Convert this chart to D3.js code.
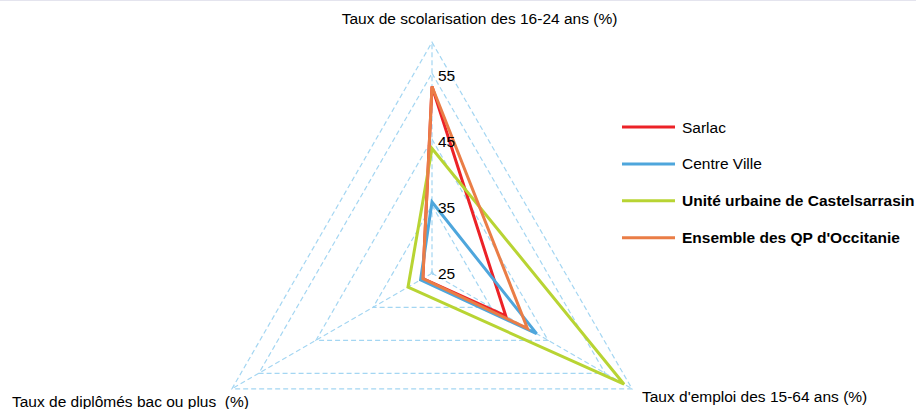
<!DOCTYPE html>
<html>
<head>
<meta charset="utf-8">
<script src="https://cdn.jsdelivr.net/npm/d3@7"></script>
<style>
  body { margin: 0; background: #fff; }
  svg { display: block; font-family: "Liberation Sans", Arial, sans-serif; }
</style>
</head>
<body>
<svg id="chart" width="916" height="409"></svg>
<script>
// axes, clockwise from the top
const axes = [
  'Taux de scolarisation des 16-24 ans (%)',
  "Taux d'emploi des 15-64 ans (%)",
  'Taux de diplômés bac ou plus  (%)'
];
const seriesNames = [
  'Sarlac',
  'Centre Ville',
  'Unité urbaine de Castelsarrasin',
  "Ensemble des QP d'Occitanie"
];
const sarlac = [53.0, 37.6, 26.3];
const centreVille = [35.5, 43.0, 26.7];
const castelsarrasin = [43.6, 58.3, 28.9];
const occitanie = [53.0, 41.4, 26.3];
const tickValues = [25, 35, 45, 55];
const axisMin = 24.7;
const axisMax = 59.7;

const colors = ['#ec2227', '#4ea6dc', '#b8d433', '#ea7d46'];
const boldLegend = [false, false, true, true];

const svg = d3.select('#chart');
const cx = 432, cy = 273.3, R = 231;

svg.append('line')
  .attr('x1', 0).attr('x2', 916).attr('y1', 0.5).attr('y2', 0.5)
  .attr('stroke', '#e4e4ee').attr('stroke-width', 1);

const r = d3.scaleLinear().domain([axisMin, axisMax]).range([0, R]);
const angle = i => i * 2 * Math.PI / axes.length;

const g = svg.append('g').attr('transform', `translate(${cx},${cy})`);

const radial = d3.lineRadial()
  .angle((d, i) => angle(i))
  .radius(d => r(d))
  .curve(d3.curveLinearClosed);

// grid rings
const gridStyle = sel => sel
  .attr('fill', 'none')
  .attr('stroke', '#a4d6f2')
  .attr('stroke-width', 1.2)
  .attr('stroke-dasharray', '5,3');

g.selectAll('path.ring')
  .data(tickValues.concat([axisMax]))
  .join('path')
  .attr('class', 'ring')
  .attr('d', v => radial(axes.map(() => v)))
  .call(gridStyle);

// spokes
g.selectAll('line.spoke')
  .data(axes)
  .join('line')
  .attr('class', 'spoke')
  .attr('x1', 0).attr('y1', 0)
  .attr('x2', (d, i) => Math.sin(angle(i)) * R)
  .attr('y2', (d, i) => -Math.cos(angle(i)) * R)
  .call(gridStyle);

// series
const allSeries = [sarlac, centreVille, castelsarrasin, occitanie];
g.selectAll('path.series')
  .data(allSeries)
  .join('path')
  .attr('class', 'series')
  .attr('d', d => radial(d))
  .attr('fill', 'none')
  .attr('stroke', (d, i) => colors[i])
  .attr('stroke-width', 3);

// tick labels
g.selectAll('text.tick')
  .data(tickValues)
  .join('text')
  .attr('class', 'tick')
  .attr('x', 6)
  .attr('y', v => -r(v) + 2)
  .attr('dominant-baseline', 'central')
  .attr('font-size', 15.5)
  .attr('fill', '#000')
  .text(v => v);

// axis labels
const axisLabelPos = [
  { x: 479.5, y: 24, anchor: 'middle' },
  { x: 642, y: 402, anchor: 'start' },
  { x: 12, y: 407, anchor: 'start' }
];
svg.selectAll('text.axis')
  .data(axes)
  .join('text')
  .attr('class', 'axis')
  .attr('x', (d, i) => axisLabelPos[i].x)
  .attr('y', (d, i) => axisLabelPos[i].y)
  .attr('text-anchor', (d, i) => axisLabelPos[i].anchor)
  .attr('font-size', 15.5)
  .attr('fill', '#000')
  .style('white-space', 'pre')
  .text(d => d);

// legend
const legend = svg.append('g');
const item = legend.selectAll('g')
  .data(seriesNames)
  .join('g')
  .attr('transform', (d, i) => `translate(622,${127 + i * 36.9})`);
item.append('line')
  .attr('x1', 0).attr('x2', 53)
  .attr('stroke', (d, i) => colors[i])
  .attr('stroke-width', 3);
item.append('text')
  .attr('x', 60)
  .attr('y', 5.5)
  .attr('font-size', 15.5)
  .attr('font-weight', (d, i) => boldLegend[i] ? 'bold' : 'normal')
  .attr('fill', '#000')
  .text(d => d);
</script>
</body>
</html>
